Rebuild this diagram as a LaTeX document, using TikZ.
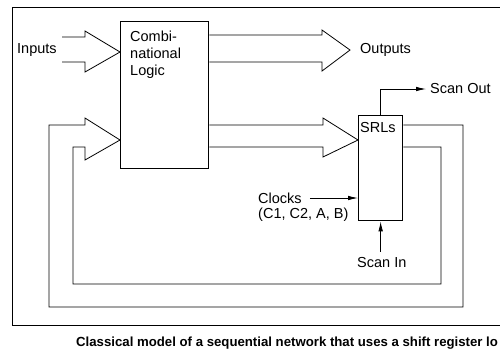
\documentclass[tikz,border=0pt]{standalone}
\usepackage{fontspec}
\setmainfont{Liberation Sans}
\usetikzlibrary{arrows.meta,positioning,calc}

\begin{document}
\begin{tikzpicture}[x=1pt, y=-1pt, >={Latex[length=10pt,width=4.5pt]},
  wire/.style={line width=0.8pt},
  box/.style={draw, line width=1.3pt, anchor=north west, inner sep=0pt},
  lbl/.style={anchor=west, align=left, inner sep=0pt, font=\fontsize{14.5}{17}\selectfont}]
\useasboundingbox (0,0) rectangle (500,354);
\node[box, minimum width=88pt, minimum height=147pt] (logic) at (120,21) {};
\node[box, minimum width=44pt, minimum height=105pt] (srl) at (358,115) {};
\node[lbl, anchor=north west] (logictxt) at (130,31) {Combi-\\national\\Logic};
\node[lbl] (srltxt) at (360,128) {SRLs};
\node[lbl] (inputs) at (17,50) {Inputs};
\node[lbl] (outputs) at (360,50) {Outputs};
\node[lbl] (scanout) at (430,89) {Scan Out};
\node[lbl] (clocks) at (258,198) {Clocks};
\node[lbl] (clocklist) at (258,215) {(C1, C2, A, B)};
\node[lbl] (scanin) at (357,263) {Scan In};
\node[anchor=west, inner sep=0pt, font=\fontsize{13.2}{15}\bfseries] (caption) at (76,343)
  {Classical model of a sequential network that uses a shift register lo};
\draw[wire] (500,25) -- (500,7) -- (12,7) -- (12,325) -- (500,325);
\draw[wire] (62,37) -- (85,37) -- (85,31) -- (logic.west |- 0,52) -- (85,72) -- (85,62) -- (62,62);
\draw[wire] (logic.east |- 0,35) -- (322,35) -- (322,30) -- (350,50) -- (322,71) -- (322,62)
  -- (logic.east |- 0,62);
\draw[wire] (logic.east |- 0,125) -- (323,125) -- (323,118) -- (srl.west |- 0,140) -- (323,157)
  -- (323,147) -- (logic.east |- 0,147);
\draw[wire] (srl.east |- 0,125) -- (463,125) -- (463,307) -- (49,307) -- (49,125) -- (85,125)
  -- (85,118) -- (logic.west |- 0,140) -- (85,160) -- (85,147) -- (73,147) -- (73,284)
  -- (441,284) -- (441,147) -- (srl.east |- 0,147);
\draw[wire,->] (srl.north) |- ([xshift=-4pt]scanout.west);
\draw[wire,->] ([xshift=8pt]clocks.east) -- (srl.west |- clocks.east);
\draw[wire,->] ([yshift=6pt]scanin.north -| srl.south) -- (srl.south);
\end{tikzpicture}
\end{document}
